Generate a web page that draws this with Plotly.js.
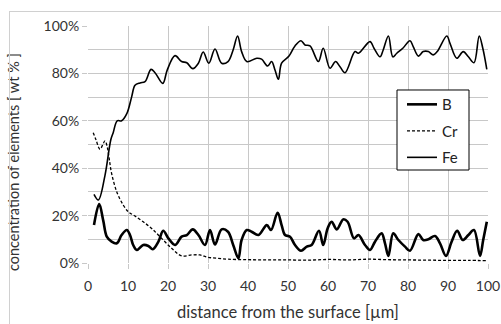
<!DOCTYPE html>
<html>
<head>
<meta charset="utf-8">
<script src="https://cdn.plot.ly/plotly-3.0.1.min.js"></script>
<style>
html,body{margin:0;padding:0;background:#fff;overflow:hidden;}
#wrap{position:relative;width:501px;height:324px;overflow:hidden;}
#chart{position:absolute;left:0;top:0;width:501px;height:324px;}
#frame{position:absolute;left:9px;top:11px;width:520px;height:340px;border:1px solid #d0d0d0;pointer-events:none;}
</style>
</head>
<body>
<div id="wrap"><div id="chart"></div><div id="frame"></div></div>
<script>
// Fe series
var feX = [1.5,2.6,4.25,5.7,6.3,7.3,8.4,9.7,10.9,11.75,13,14.25,15.75,16.75,18.7,19.8,21.75,23.4,24.7,26.2,27.6,28.8,30.2,31.75,33.4,35,36.3,37.4,38.4,39.7,42.2,43.4,44.9,45.9,46.75,47.6,48.4,50.25,51.75,53.25,54.25,55.5,57.6,58.8,60.5,61.9,63,64.25,66.75,67.6,70.5,71.5,73,73.8,75.1,76.2,77.2,78.7,80.5,81.3,82.6,83.8,85.1,86.3,87.3,89.7,90.5,92.2,93.8,95.1,96.5,97.8,98.7,99.7];
var feY = [29,26.6,37,52,55,60,60,63,70,75,76,76.5,81.7,80.3,75.8,81.4,87.5,85,84.5,82,84.3,89,84.3,90.3,84.3,85,90,95.8,89.2,85,86.4,86,83.1,85,81.4,77.5,84.3,87.3,91.6,93.8,92,91.6,85,90.6,82.2,85,82.8,80.3,89.2,88.5,93.4,90.6,87,89.9,95.8,87,88.5,90.6,93.8,91.3,87.3,89.2,89.2,87.8,89.2,95.8,92.7,86.4,89.2,87,84.5,95.8,90.6,81.7];
// B series
var bX = [1.5,2.8,3.8,4.7,5.9,7.2,8.4,9.7,10.5,11.3,12.2,13.8,15.1,16.2,17.6,18.8,20.1,21.75,23.4,24.7,26.2,27.6,29.25,30.5,31.75,33.4,35,36.3,37.6,38.4,39.7,40.9,42.6,44.7,45.75,47.4,48.4,49.25,50.5,51.75,53.25,54.7,55.9,57.75,58.8,59.9,60.9,62.2,63.8,64.9,66.5,67.6,69.25,70.5,71.75,73.4,74.25,75.1,76.3,77.6,79.25,80.5,82.6,83.8,85.1,86.75,88,89.5,90.9,92.3,93.7,95.1,96.5,98,98.8,99.7];
var bY = [16,24.9,18,11.1,9,8.3,11.8,13.9,11.8,7.6,5.5,7.6,7.2,5.8,9,13.6,10.4,7.6,11.1,11.8,14.2,11.8,7.6,13.9,7.8,14.2,13.2,7.6,2,9.7,13.9,13.2,11.8,16,13.9,21.2,16,11.8,11.1,7.6,5.2,6.9,7.6,13.6,7.6,14.6,17.4,14.2,18.4,17.4,10.4,11.8,7.6,5.5,9,12.5,8.3,3,12.5,9.7,6.9,5.2,12.2,9.7,10,11.4,8.3,3,9,13.6,9.7,11.8,13.9,3,9.7,17.4];
// Cr series
var crX = [1.3,2.0,3.0,4.25,4.8,5.3,5.9,7.2,8.8,10.1,11.75,13.8,15.9,18.4,20.9,23.4,25.9,28,30,32.2,35,40,45,50,55,60,65,70,75,80,85,90,95,100];
var crY = [55,52,48,51.5,49,44,37.8,30,24.5,21.6,19.8,17.4,14.6,10.4,6.2,3,3.4,3.4,2.4,2,1.6,1.4,1.3,1.3,1.2,1.5,1.3,1.6,1.4,1.3,1.2,1.1,1.1,1.0];

var names = ['B','Cr','Fe'];
var xTickVals = [0,10,20,30,40,50,60,70,80,90,100];
var yTickVals = [0,20,40,60,80,100];
var yTickText = ['0%','20%','40%','60%','80%','100%'];
var xTitle = 'distance from the surface [\u00b5m]';
var yTitle = 'concentration of elements [ wt % ]';

var traces = [
  {x:bX, y:bY, name:names[0], legendgroup:'b', type:'scatter', mode:'lines',
   line:{color:'#000', width:2.6, shape:'spline', smoothing:1}},
  {x:crX, y:crY, name:names[1], legendgroup:'cr', type:'scatter', mode:'lines',
   line:{color:'#000', width:1.3, dash:'3px,2px', shape:'spline', smoothing:1}},
  {x:feX, y:feY, name:names[2], legendgroup:'fe', type:'scatter', mode:'lines',
   line:{color:'#000', width:1.6, shape:'spline', smoothing:1}}
];

var fontFam = 'Lato, "Open Sans", sans-serif';
var layout = {
  width:501, height:324,
  margin:{l:88, r:13, t:26, b:61},
  paper_bgcolor:'rgba(0,0,0,0)', plot_bgcolor:'#fff',
  font:{family:fontFam, size:14, color:'#333'},
  showlegend:true,
  legend:{x:0.785, y:0.738, xanchor:'left', yanchor:'top', bgcolor:'rgba(0,0,0,0)',
          borderwidth:0, tracegroupgap:4,
          font:{family:fontFam, size:15, color:'#222'}},
  shapes:[{type:'rect', xref:'paper', yref:'paper', x0:0.7725, x1:0.9525, y0:0.3924, y1:0.730,
           line:{color:'#000', width:1}, fillcolor:'#fff', layer:'above'}],
  xaxis:{range:[0,100], tickvals:xTickVals, ticktext:xTickVals.map(String),
         showgrid:true, gridcolor:'#c8c8c8', gridwidth:1, zeroline:false,
         showline:false, ticks:'outside', ticklen:5, tickcolor:'#c8c8c8',
         ticklabelstandoff:5, fixedrange:true},
  yaxis:{range:[0,100], tickvals:yTickVals, ticktext:yTickText,
         showgrid:true, gridcolor:'#c8c8c8', gridwidth:1, zeroline:false,
         showline:false, ticks:'outside', ticklen:5, tickcolor:'#c8c8c8',
         minor:{dtick:10, showgrid:true, gridcolor:'#c8c8c8', gridwidth:1, ticks:''},
         fixedrange:true},
  annotations:[
    {text:yTitle, textangle:-90, xref:'paper', yref:'paper',
     x:-0.1875, y:0.426, xanchor:'center', yanchor:'middle',
     showarrow:false, font:{family:fontFam, size:14.5, color:'#333'}},
    {text:xTitle, xref:'paper', yref:'paper',
     x:0.499, y:-0.2068, xanchor:'center', yanchor:'middle',
     showarrow:false, font:{family:fontFam, size:16.5, color:'#333'}}
  ]
};

Plotly.newPlot('chart', traces, layout, {displayModeBar:false, staticPlot:true});
</script>
</body>
</html>
